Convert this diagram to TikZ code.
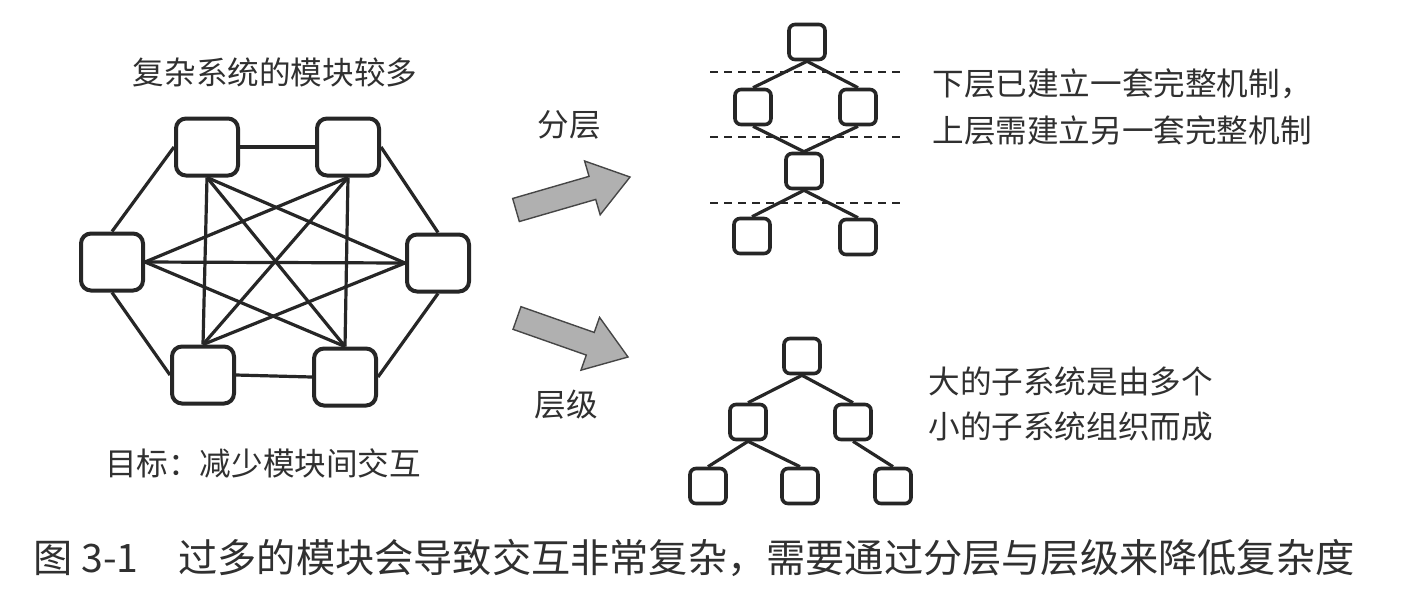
\documentclass[tikz,border=0pt]{standalone}
\usepackage{fontspec}
\setmainfont{Noto Sans CJK SC}
\usetikzlibrary{calc}
\definecolor{ink}{HTML}{262626}
\definecolor{txt}{HTML}{303030}
\begin{document}
\begin{tikzpicture}[x=0.5pt,y=-0.5pt,
  module/.style={draw=ink,line width=2pt,rounded corners=5pt,fill=white,
    minimum width=31pt,minimum height=28.5pt,inner sep=0pt},
  leaf/.style={draw=ink,line width=1.8pt,rounded corners=3pt,fill=white,
    minimum width=18pt,minimum height=17.5pt,inner sep=0pt},
  link/.style={draw=ink,line width=1.6pt},
  layerline/.style={draw=ink,line width=1.4pt,dash pattern=on 4pt off 3pt},
  label/.style={text=txt,inner sep=0pt,font=\fontsize{15.8pt}{20pt}\selectfont},
  captxt/.style={text=txt,inner sep=0pt,font=\fontsize{19.6pt}{24pt}\selectfont},
  bigarrow/.style={fill=gray!62,draw=gray!55!black,line width=0.7pt,line join=miter}
]
\useasboundingbox (0,0) rectangle (1428,596);
\fill[white] (0,0) rectangle (1428,596);

% ---------- fully connected modules ----------
\node[label] (title) at (275,72) {复杂系统的模块较多};
\node[module] (tl) at (207,147) {};
\node[module] (tr) at (348,147) {};
\node[module] (l)  at (112,262) {};
\node[module] (r)  at (438,263) {};
\node[module] (bl) at (203,375) {};
\node[module] (br) at (345,377) {};
\node[label] (goal) at (263,463) {目标：减少模块间交互};

% outer ring
\draw[link] (tl.east) -- (tr.west);
\draw[link] (tr.east) -- (r.north);
\draw[link] (r.south) -- (br.east);
\draw[link] (br.west) -- (bl.east);
\draw[link] (bl.west) -- (l.south);
\draw[link] (l.north) -- (tl.west);
% inner links
\draw[link] (tl.south) -- (bl.north);
\draw[link] (tl.south) -- (br.north);
\draw[link] (tl.south) -- (r.west);
\draw[link] (tr.south) -- (br.north);
\draw[link] (tr.south) -- (bl.north);
\draw[link] (tr.south) -- (l.east);
\draw[link] (l.east) -- (r.west);
\draw[link] (l.east) -- (br.north);
\draw[link] (bl.north) -- (r.west);

% ---------- transition arrows ----------
\node[label] (fenceng) at (569,125) {分层};
\node[label] (cengji) at (566,405) {层级};

\coordinate (u0) at (516,210);
\coordinate (u1) at (630,177);
\coordinate (ub) at ($(u0)!0.67!(u1)$);
\path[bigarrow] ($(u0)!6pt!90:(u1)$) -- ($(ub)!6pt!90:(u1)$) -- ($(ub)!14pt!90:(u1)$)
  -- (u1) -- ($(ub)!14pt!-90:(u1)$) -- ($(ub)!6pt!-90:(u1)$) -- ($(u0)!6pt!-90:(u1)$) -- cycle;

\coordinate (d0) at (517,318);
\coordinate (d1) at (628,357);
\coordinate (db) at ($(d0)!0.66!(d1)$);
\path[bigarrow] ($(d0)!6pt!90:(d1)$) -- ($(db)!6pt!90:(d1)$) -- ($(db)!14pt!90:(d1)$)
  -- (d1) -- ($(db)!14pt!-90:(d1)$) -- ($(db)!6pt!-90:(d1)$) -- ($(d0)!6pt!-90:(d1)$) -- cycle;

% ---------- layered structure ----------
\draw[layerline] (710,72) -- (905,72);
\draw[layerline] (710,137) -- (905,137);
\draw[layerline] (710,203) -- (905,203);

\node[leaf] (ta) at (807,42) {};
\node[leaf] (tb) at (753,107) {};
\node[leaf] (tc) at (858,107) {};
\node[leaf] (td) at (804,171) {};
\node[leaf] (te) at (752,236) {};
\node[leaf] (tf) at (858,237) {};
\draw[link] (ta.south) -- (tb.north);
\draw[link] (ta.south) -- (tc.north);
\draw[link] (tb.south) -- (td.north);
\draw[link] (tc.south) -- (td.north);
\draw[link] (td.south) -- (te.north);
\draw[link] (td.south) -- (tf.north);

\node[label,anchor=west] (lay1) at (932,84) {下层已建立一套完整机制，};
\node[label,anchor=west] (lay2) at (932,130) {上层需建立另一套完整机制};

% ---------- hierarchy ----------
\node[leaf] (ba) at (802,356) {};
\node[leaf] (bb) at (748,422) {};
\node[leaf] (bc) at (853,422) {};
\node[leaf] (bd) at (708,486) {};
\node[leaf] (be) at (800,486) {};
\node[leaf] (bf) at (893,486) {};
\draw[link] (ba.south) -- (bb.north);
\draw[link] (ba.south) -- (bc.north);
\draw[link] (bb.south) -- (bd.north);
\draw[link] (bb.south) -- (be.north);
\draw[link] (bc.south) -- (bf.north);

\node[label,anchor=west] (hier1) at (928,381) {大的子系统是由多个};
\node[label,anchor=west] (hier2) at (928,427) {小的子系统组织而成};

% ---------- caption ----------
\node[captxt,anchor=west] (capnum) at (33,558) {图 3-1};
\node[captxt,anchor=west] (captext) at (178,558) {过多的模块会导致交互非常复杂，需要通过分层与层级来降低复杂度};
\end{tikzpicture}
\end{document}
